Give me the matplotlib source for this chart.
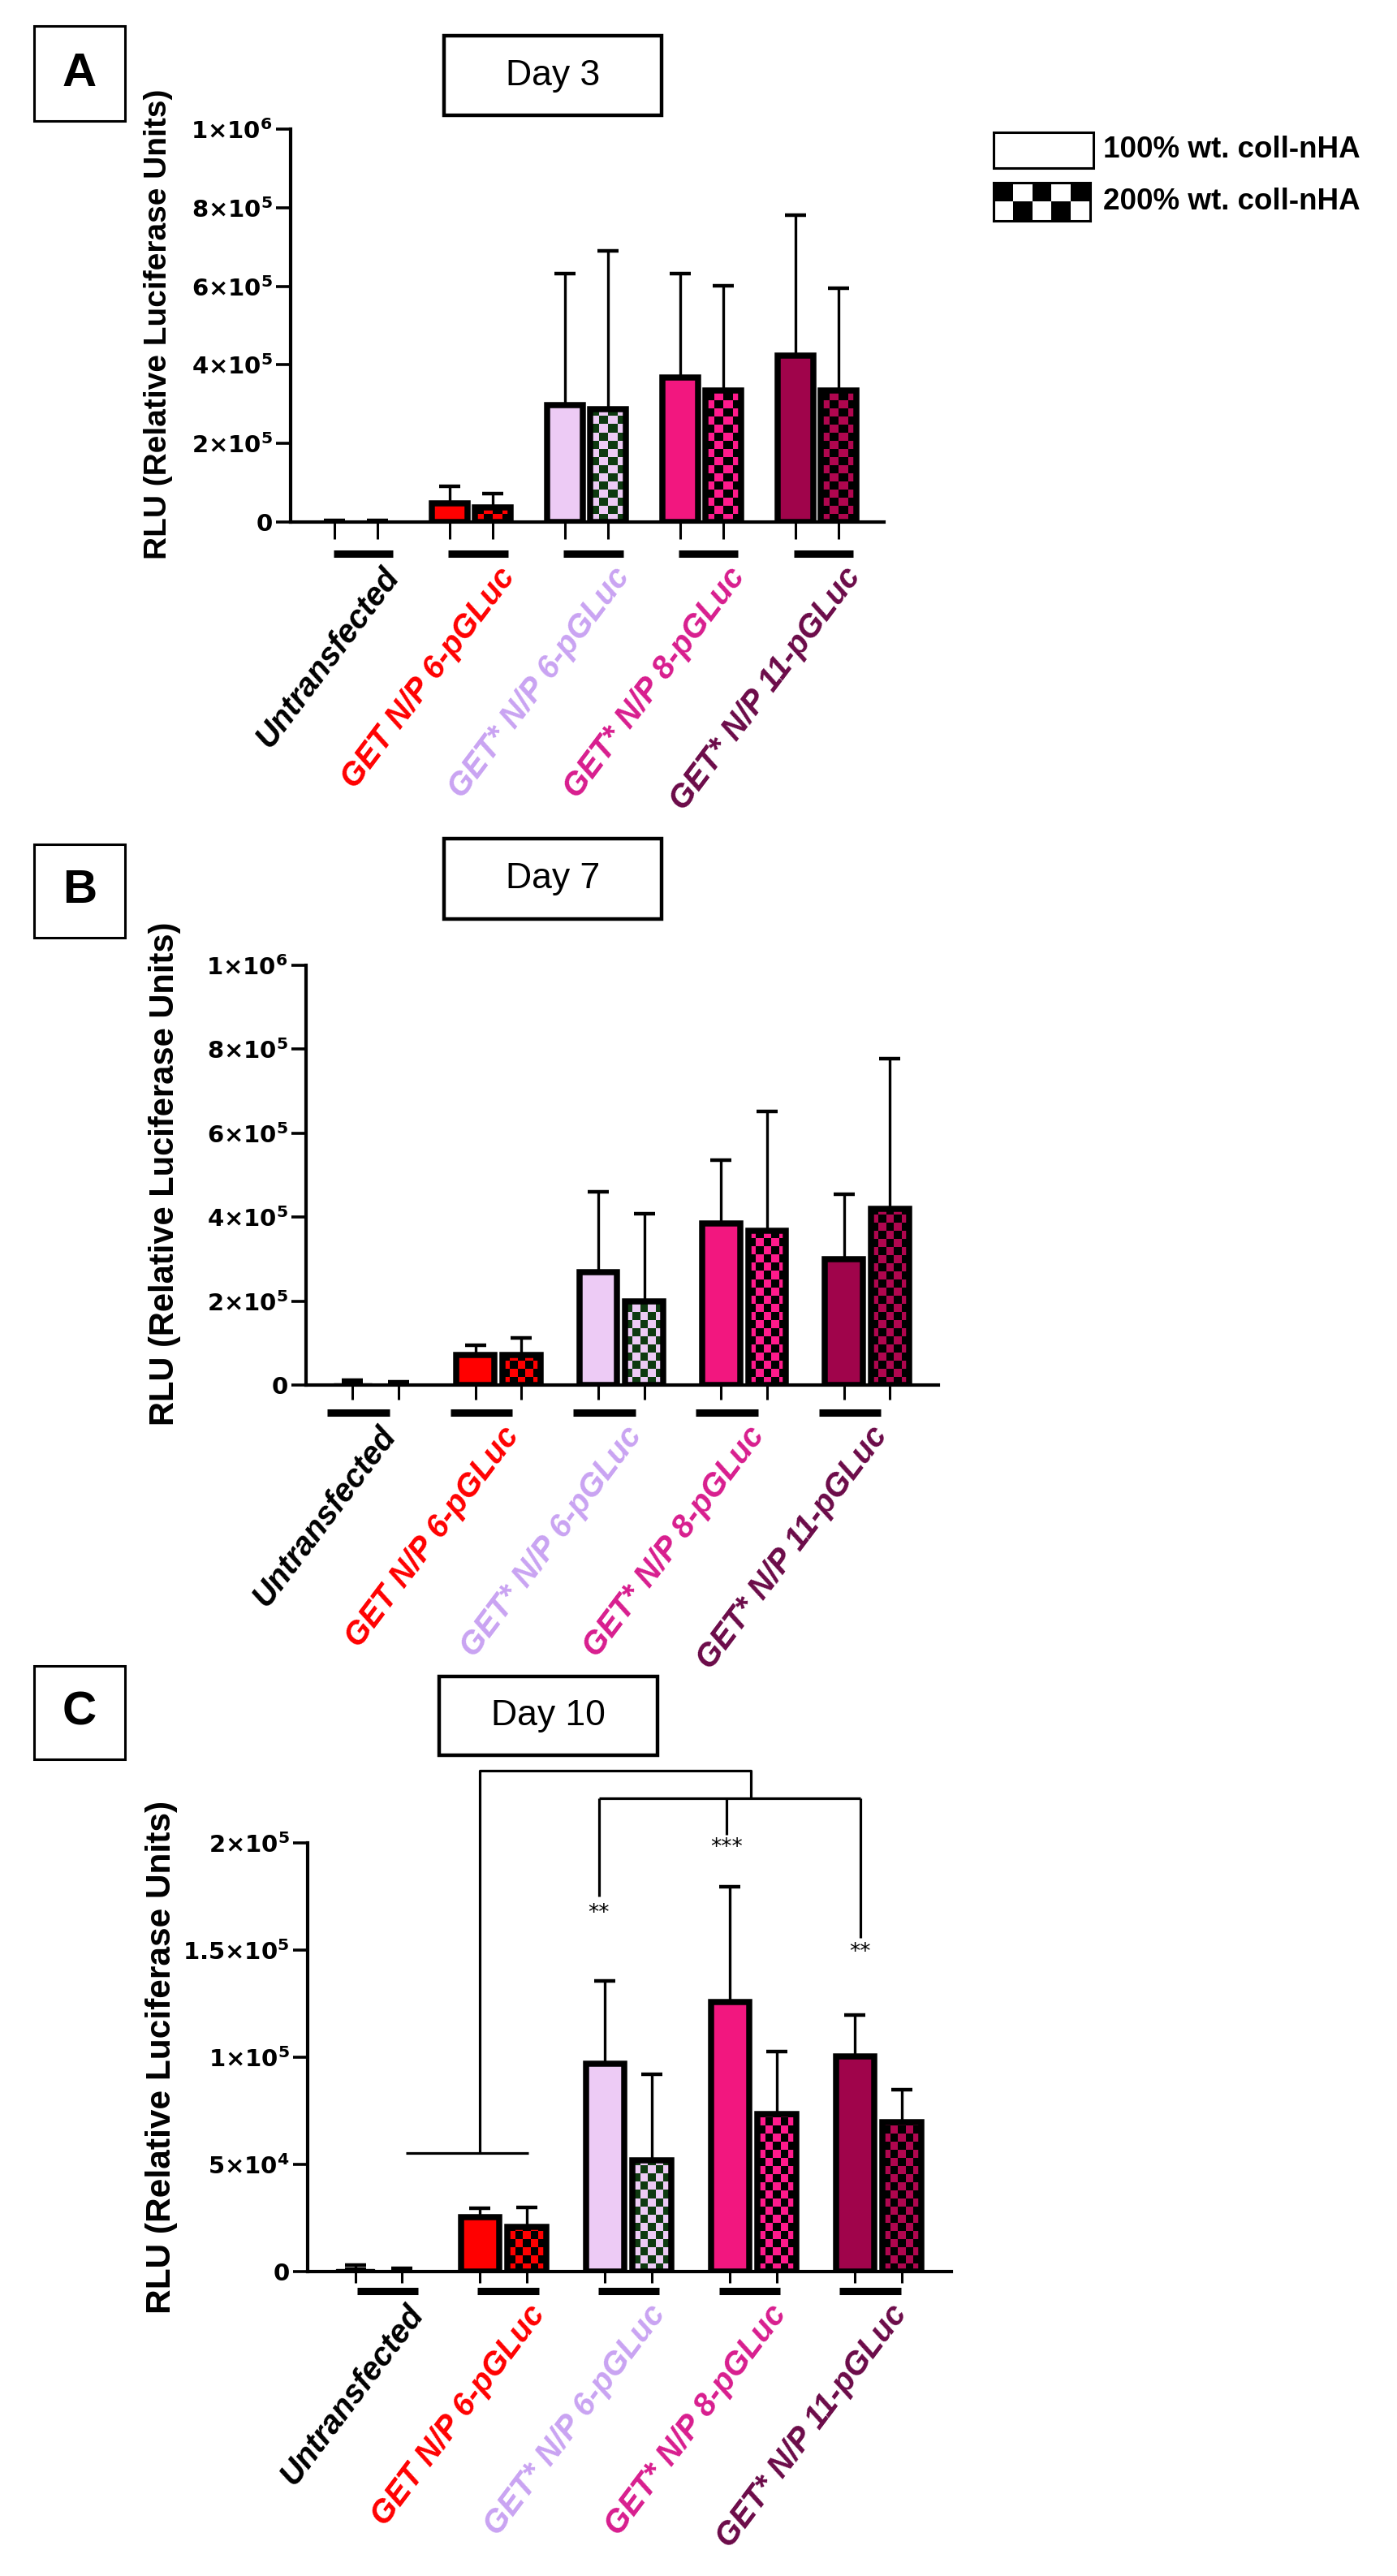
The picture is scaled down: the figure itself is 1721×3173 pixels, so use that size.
import numpy as np
import matplotlib
matplotlib.use("Agg")
import matplotlib.pyplot as plt
from matplotlib import font_manager as fm
from matplotlib.colors import ListedColormap
from matplotlib.patches import Rectangle
from matplotlib.transforms import blended_transform_factory

W, H = 1721, 3173

# ---- data -------------------------------------------------------------
groups = ["Untransfected", "GET N/P 6-pGLuc", "GET* N/P 6-pGLuc",
          "GET* N/P 8-pGLuc", "GET* N/P 11-pGLuc"]
label_colors = ["black", "#FF0000", "#C9A3F2", "#D81D8E", "#6B0A48"]

# mean and upper SD, 100% wt. coll-nHA (plain) / 200% wt. coll-nHA (checkered)
day3_mean_100 = [1.5e3, 4.7e4, 2.97e5, 3.68e5, 4.23e5]
day3_sd_100 = [3.5e3, 4.4e4, 3.35e5, 2.64e5, 3.58e5]
day3_mean_200 = [1.0e3, 3.7e4, 2.88e5, 3.34e5, 3.34e5]
day3_sd_200 = [4.0e3, 3.5e4, 4.03e5, 2.68e5, 2.61e5]

day7_mean_100 = [3.0e3, 7.1e4, 2.68e5, 3.84e5, 3.00e5]
day7_sd_100 = [9.0e3, 2.4e4, 1.93e5, 1.52e5, 1.55e5]
day7_mean_200 = [2.0e3, 7.1e4, 1.99e5, 3.68e5, 4.19e5]
day7_sd_200 = [5.0e3, 4.2e4, 2.10e5, 2.83e5, 3.58e5]

day10_mean_100 = [1.0e3, 2.54e4, 9.68e4, 1.256e5, 1.004e5]
day10_sd_100 = [2.0e3, 4.1e3, 3.88e4, 5.39e4, 1.93e4]
day10_mean_200 = [0.5e3, 2.10e4, 5.20e4, 7.33e4, 6.96e4]
day10_sd_200 = [1.0e3, 8.8e3, 4.02e4, 2.93e4, 1.52e4]

ticks_1e6 = [0, 2e5, 4e5, 6e5, 8e5, 1e6]
ticklabels_1e6 = ["0", r"$\mathbf{2{\times}10^{5}}$", r"$\mathbf{4{\times}10^{5}}$",
                  r"$\mathbf{6{\times}10^{5}}$", r"$\mathbf{8{\times}10^{5}}$",
                  r"$\mathbf{1{\times}10^{6}}$"]
ticks_2e5 = [0, 5e4, 1e5, 1.5e5, 2e5]
ticklabels_2e5 = ["0", r"$\mathbf{5{\times}10^{4}}$", r"$\mathbf{1{\times}10^{5}}$",
                  r"$\mathbf{1.5{\times}10^{5}}$", r"$\mathbf{2{\times}10^{5}}$"]

# significance annotations on day 10 (data coords)
sig_stars = ["**", "***", "**"]
sig_x = [1.95, 2.97, 4.04]
sig_y = [1.67e5, 1.977e5, 1.49e5]
sig_drop_y = [1.75e5, 2.038e5, 1.557e5]

legend_labels = ["100% wt. coll-nHA", "200% wt. coll-nHA"]

# ---- styles -----------------------------------------------------------
fill_plain = ["white", "#FF0000", "#EDCBF5", "#F2177F", "#A0044B"]
chk_light = ["white", "#FF0000", "#EDCBF5", "#FF1A8C", "#B0064F"]
chk_dark = ["black", "black", "#0E3A10", "black", "black"]


def pick(*names):
    for n in names:
        try:
            fm.findfont(fm.FontProperties(family=n), fallback_to_default=False)
            return n
        except Exception:
            pass
    return "DejaVu Sans"


ARIAL = pick("Liberation Sans", "Arimo", "DejaVu Sans")
TICKF = "DejaVu Sans"
plt.rcParams["mathtext.fontset"] = "dejavusans"

OFF = 0.375
BW = 0.31
XLIM = (-0.38, 4.77)
EDGE = 5.4

fig = plt.figure(figsize=(W / 100, H / 100), dpi=100)


def fbox(l, t, r, b):
    return [l / W, 1 - b / H, (r - l) / W, (b - t) / H]


def fig_rect(l, t, r, b, lw):
    fig.add_artist(Rectangle((l / W, 1 - b / H), (r - l) / W, (b - t) / H,
                             transform=fig.transFigure, facecolor="white",
                             edgecolor="black", linewidth=lw))


def checker_bar(ax, x, h, c1, c2, lw, cell_px=10.0):
    base = ax.bar(x, h, BW, color=c1, edgecolor="none", zorder=2)[0]
    p0 = ax.transData.transform((0, 0))
    p1 = ax.transData.transform((1, 1))
    sx, sy = p1[0] - p0[0], p1[1] - p0[1]
    nx = max(1, int(round(BW * sx / cell_px)))
    cw = BW / nx
    ch = cell_px / sy
    ny = int(np.ceil(h / ch)) + 1
    pat = np.add.outer(np.arange(ny), np.arange(nx)) % 2
    im = ax.imshow(pat, cmap=ListedColormap([c1, c2]), vmin=0, vmax=1,
                   extent=[x - BW / 2, x - BW / 2 + nx * cw, 0, ny * ch],
                   origin="lower", interpolation="nearest", aspect="auto",
                   zorder=2.1)
    im.set_clip_path(base)
    ax.bar(x, h, BW, fill=False, edgecolor="black", linewidth=lw, zorder=2.2)


def panel(px_box, ymax, ticks, ticklabels, m1, s1, m2, s2, ylab_xy, ylab_fs,
          letter, letter_box, day, day_box, ul_y, ul_off, ul_step, ul_w,
          tick_len, lab_dy):
    l, t, r, b = px_box
    ax = fig.add_axes(fbox(l, t, r, b))
    ax.set_xlim(*XLIM)
    ax.set_ylim(0, ymax)
    for s in ["top", "right"]:
        ax.spines[s].set_visible(False)
    for s in ["left", "bottom"]:
        ax.spines[s].set_linewidth(3)
    ax.patch.set_alpha(0)

    g = np.arange(len(groups))
    x1 = g.astype(float)
    x2 = g + OFF
    for i in g:
        lw = EDGE if m1[i] > 0.01 * ymax else 1
        ax.bar(x1[i], m1[i], BW, color=fill_plain[i], edgecolor="black",
               linewidth=lw, zorder=2)
        if m2[i] > 0.01 * ymax:
            checker_bar(ax, x2[i], m2[i], chk_light[i], chk_dark[i], EDGE)
        else:
            ax.bar(x2[i], m2[i], BW, color="white", edgecolor="black",
                   linewidth=1, zorder=2)
    for xs, m, s in [(x1, m1, s1), (x2, m2, s2)]:
        ax.errorbar(xs, m, yerr=[np.zeros(len(m)), s], fmt="none",
                    ecolor="black", elinewidth=2.4, capsize=9.5,
                    capthick=3.2, zorder=3)

    ax.set_xticks(np.concatenate([x1, x2]))
    ax.set_xticklabels([])
    ax.tick_params(axis="x", direction="out", length=tick_len, width=2.2)
    ax.set_yticks(ticks)
    ax.set_yticklabels(ticklabels, fontfamily=TICKF, fontweight="bold",
                       fontsize=21)
    ax.tick_params(axis="y", direction="out", length=13, width=2.6, pad=3)
    ax.set_xlim(*XLIM)
    ax.set_ylim(0, ymax)

    trans = blended_transform_factory(ax.transData, ax.transAxes)
    yfrac = (b - ul_y) / (b - t)
    for i in g:
        xs = i * ul_step + ul_off
        ax.plot([xs, xs + ul_w], [yfrac, yfrac], color="black",
                linewidth=6.5, solid_capstyle="butt", transform=trans,
                clip_on=False)
        ax.text(xs + ul_w - 0.1, (b - ul_y - lab_dy) / (b - t), groups[i],
                transform=trans, rotation=53, rotation_mode="anchor",
                ha="right", va="top", color=label_colors[i],
                fontfamily=ARIAL, fontweight="bold", fontstyle="italic",
                fontsize=28.5, clip_on=False)

    fig.text(ylab_xy[0] / W, 1 - ylab_xy[1] / H,
             "RLU (Relative Luciferase Units)", rotation=90, ha="center",
             va="center", fontfamily=ARIAL, fontweight="bold",
             fontsize=ylab_fs)

    fig_rect(*letter_box, lw=2.2)
    lx = (letter_box[0] + letter_box[2]) / 2
    ly = (letter_box[1] + letter_box[3]) / 2
    fig.text(lx / W, 1 - ly / H, letter, ha="center", va="center",
             fontfamily=ARIAL, fontweight="bold", fontsize=42)
    fig_rect(*day_box, lw=3.2)
    dx = (day_box[0] + day_box[2]) / 2
    dy = (day_box[1] + day_box[3]) / 2
    fig.text(dx / W, 1 - dy / H, day, ha="center", va="center",
             fontfamily=ARIAL, fontsize=32)
    return ax


axA = panel((358, 159, 1089, 643), 1e6, ticks_1e6, ticklabels_1e6,
            day3_mean_100, day3_sd_100, day3_mean_200, day3_sd_200,
            (195, 399), 28, "A", (42, 32, 154, 149), "Day 3",
            (547, 44, 815, 142), 682, -0.01, 1.0, 0.515, 15, 10)
axB = panel((377, 1189, 1156, 1706), 1e6, ticks_1e6, ticklabels_1e6,
            day7_mean_100, day7_sd_100, day7_mean_200, day7_sd_200,
            (203, 1446), 30, "B", (42, 1040, 154, 1155), "Day 7",
            (547, 1033, 815, 1132), 1740, -0.205, 1.0, 0.507, 13, 10)
axC = panel((379, 2270, 1172, 2798), 2e5, ticks_2e5, ticklabels_2e5,
            day10_mean_100, day10_sd_100, day10_mean_200, day10_sd_200,
            (199, 2534), 30.5, "C", (42, 2052, 154, 2167), "Day 10",
            (541, 2065, 810, 2162), 2822, 0.013, 0.966, 0.49, 10, 10)

# significance brackets, day 10
kw = dict(color="black", linewidth=2.3, clip_on=False, zorder=4,
          solid_capstyle="butt")
axC.plot([0.408, 1.387], [5.53e4, 5.53e4], **kw)
axC.plot([1.0, 1.0, 3.169, 3.169], [5.53e4, 2.337e5, 2.337e5, 2.208e5], **kw)
axC.plot([sig_x[0], sig_x[2]], [2.208e5, 2.208e5], **kw)
for xs, yd in zip(sig_x, sig_drop_y):
    axC.plot([xs, xs], [2.208e5, yd], **kw)
for xs, ys, st in zip(sig_x, sig_y, sig_stars):
    axC.text(xs, ys, st, ha="center", va="center", fontfamily=TICKF,
             fontsize=19, clip_on=False)

# legend (panel A)
fig_rect(1224, 163, 1347, 207, lw=2.2)
lg = fig.add_axes(fbox(1224, 225, 1343, 272))
lg.imshow(np.array([[0, 1, 0, 1, 0], [1, 0, 1, 0, 1]]),
          cmap=ListedColormap(["black", "white"]), vmin=0, vmax=1,
          interpolation="nearest", aspect="auto")
lg.set_xticks([])
lg.set_yticks([])
for s in lg.spines.values():
    s.set_linewidth(2.2)
for yc, txt in zip([185, 248], legend_labels):
    fig.text(1359 / W, 1 - yc / H, txt, ha="left", va="center",
             fontfamily=ARIAL, fontweight="bold", fontsize=26.5)

fig.savefig("out.png", dpi=100, facecolor="white")
